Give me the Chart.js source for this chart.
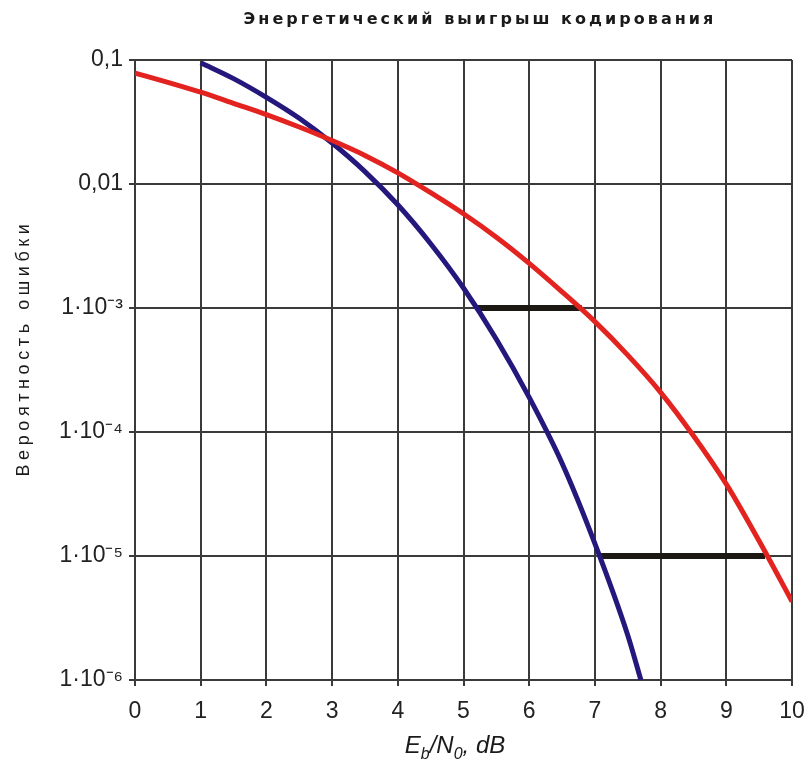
<!DOCTYPE html>
<html><head><meta charset="utf-8">
<script src="https://cdn.jsdelivr.net/npm/chart.js@4.4.1/dist/chart.umd.min.js"></script>
<style>html,body{margin:0;padding:0;background:#fff}#wrap{width:809px;height:775px}</style>
</head><body><div id="wrap"><canvas id="c"></canvas></div>
<script>
const chartTitle = 'Энергетический выигрыш кодирования';
const yAxisTitle = 'Вероятность ошибки';
const xAxisParts = [['E', 0], ['b', 1], ['/N', 0], ['0', 1], [', dB', 0]];
const yTickValues = [1e-6, 1e-5, 1e-4, 1e-3, 0.01, 0.1];
const yTickLabels = ['1·10⁻⁶', '1·10⁻⁵', '1·10⁻⁴', '1·10⁻³', '0,01', '0,1'];

const uncodedX = [0, 0.5, 1, 1.5, 2, 2.5, 3, 3.5, 4, 4.5, 5, 5.5, 6, 6.5, 7, 7.5, 8, 8.5, 9, 9.5, 10];
const uncodedP = [0.0785, 0.0661, 0.055, 0.0447, 0.0363, 0.0288, 0.0224, 0.017, 0.0123, 0.00851, 0.00575, 0.00372, 0.00229, 0.00135, 0.000776, 0.000417, 0.000209, 0.0000933, 0.000038, 0.0000132, 0.0000043];

const codedX = [1, 1.5, 2, 2.5, 3, 3.5, 4, 4.5, 5, 5.5, 6, 6.5, 7, 7.5, 7.7];
const codedP = [0.095, 0.0708, 0.05, 0.0339, 0.0214, 0.0126, 0.0068, 0.0033, 0.00145, 0.00056, 0.00019, 0.000056, 0.0000126, 0.0000023, 0.000001];

const gainLevel = [1e-3, 1e-5];
const gainFrom = [5.22, 7.06];
const gainTo = [6.8, 9.59];

const pts = (xs, ys) => xs.map((x, i) => ({x: x, y: ys[i]}));

const datasets = [
  {data: pts(uncodedX, uncodedP), borderColor: '#e3231f', borderWidth: 5, pointRadius: 0, cubicInterpolationMode: 'monotone', fill: false},
  {data: pts(codedX, codedP), borderColor: '#24187c', borderWidth: 5, pointRadius: 0, cubicInterpolationMode: 'monotone', fill: false}
];
gainLevel.forEach((lv, i) => {
  datasets.push({data: [{x: gainFrom[i], y: lv}, {x: gainTo[i], y: lv}], borderColor: '#1c1814', borderWidth: 6, pointRadius: 0, borderCapStyle: 'butt', fill: false});
});

const textPlugin = {
  id: 'texts',
  afterDraw(chart) {
    const ctx = chart.ctx;
    ctx.save();
    ctx.fillStyle = '#1a1a1a';
    // title
    ctx.font = 'bold 16px "DejaVu Sans"';
    ctx.textAlign = 'center';
    ctx.textBaseline = 'middle';
    ctx.letterSpacing = '0px';
    const w0 = ctx.measureText(chartTitle).width;
    ctx.letterSpacing = ((473 - w0) / chartTitle.length).toFixed(2) + 'px';
    ctx.fillText(chartTitle, 480, 20);
    // y title
    ctx.save();
    ctx.translate(24, 348);
    ctx.rotate(-Math.PI / 2);
    ctx.font = '18px "Liberation Sans"';
    ctx.letterSpacing = '0px';
    const w1 = ctx.measureText(yAxisTitle).width;
    ctx.letterSpacing = ((257 - w1) / yAxisTitle.length).toFixed(2) + 'px';
    ctx.fillText(yAxisTitle, 0, 0);
    ctx.restore();
    // x title with subscripts
    ctx.letterSpacing = '0px';
    ctx.textAlign = 'left';
    ctx.textBaseline = 'alphabetic';
    const big = 'italic 24px "Liberation Sans"';
    const small = 'italic 16px "Liberation Sans"';
    let total = 0;
    xAxisParts.forEach(p => { ctx.font = p[1] ? small : big; total += ctx.measureText(p[0]).width; });
    let x = 455 - total / 2;
    xAxisParts.forEach(p => {
      ctx.font = p[1] ? small : big;
      ctx.fillText(p[0], x, p[1] ? 759 : 753);
      x += ctx.measureText(p[0]).width;
    });
    ctx.restore();
  }
};

new Chart(document.getElementById('c'), {
  type: 'line',
  data: {datasets: datasets},
  options: {
    responsive: true,
    maintainAspectRatio: false,
    animation: false,
    layout: {padding: {top: 60, right: 17, left: 0, bottom: 0}},
    plugins: {legend: {display: false}, tooltip: {enabled: false}, title: {display: false}},
    scales: {
      x: {
        type: 'linear', min: 0, max: 10,
        ticks: {stepSize: 1, color: '#222', font: {family: '"Liberation Sans Narrow", "Liberation Sans"', size: 23}, padding: 12, maxRotation: 0},
        grid: {color: '#3a3a3a', lineWidth: 2, tickLength: 6},
        border: {color: '#3a3a3a', width: 2},
        afterFit(s) { s.height = 95; s.paddingRight = 0; s.paddingLeft = 0; }
      },
      y: {
        type: 'logarithmic', min: 1e-6, max: 0.1,
        afterBuildTicks(s) { s.ticks = yTickValues.map(v => ({value: v, major: true})); },
        ticks: {
          color: '#222', font: {family: '"Liberation Sans Narrow", "Liberation Sans"', size: 23}, padding: 6,
          callback: (v) => { const i = yTickValues.findIndex(t => Math.abs(Math.log10(t) - Math.log10(v)) < 1e-6); return i >= 0 ? yTickLabels[i] : ''; }
        },
        grid: {color: '#3a3a3a', lineWidth: 2, tickLength: 6},
        border: {color: '#3a3a3a', width: 2},
        afterFit(s) { s.width = 135; }
      }
    }
  },
  plugins: [textPlugin]
});
</script>
</body></html>
